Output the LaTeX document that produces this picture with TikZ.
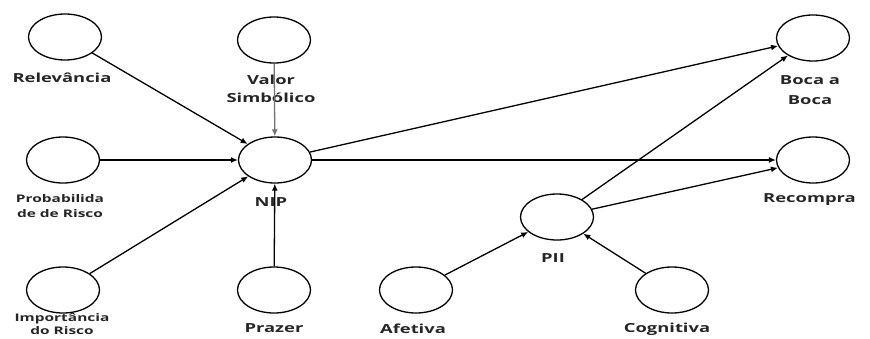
\documentclass[tikz,border=0pt]{standalone}
\usepackage{fontspec}
\setmainfont{Open Sans}[FakeStretch=1.47]
\usetikzlibrary{arrows.meta,shapes.geometric}
\begin{document}
\begin{tikzpicture}[x=1pt,y=-1pt,
  var/.style={draw, ellipse, line width=1.3pt, minimum width=73pt, minimum height=46pt, inner sep=0pt},
  lbl/.style={font=\bfseries\fontsize{12.5}{18}\selectfont, align=center, text=black!85, inner sep=0pt},
  slbl/.style={font=\bfseries\fontsize{10.5}{15}\selectfont, align=center, text=black!85, inner sep=0pt},
  arr/.style={-{Latex[length=7pt,width=6pt]}, line width=1.3pt},
  grayarr/.style={arr, draw=black!55}]
\useasboundingbox (0,0) rectangle (870,338);
% variables
\node[var] (rel)  at (65,37)  {};
\node[var] (val)  at (274,40) {};
\node[var] (nip)  at (275,160) {};
\node[var] (prob) at (63,160) {};
\node[var] (imp)  at (63,290) {};
\node[var] (pra)  at (274,290) {};
\node[var] (boca) at (813,38) {};
\node[var] (rec)  at (813,160) {};
\node[var] (pii)  at (557,217) {};
\node[var] (afe)  at (416,290) {};
\node[var] (cog)  at (672,290) {};
% labels
\node[lbl]  (lrel)  at (62,78)  {Relevância};
\node[lbl]  (lval)  at (271,89) {Valor\\Simbólico};
\node[lbl]  (lnip)  at (271,202) {NIP};
\node[slbl] (lprob) at (60,206) {Probabilida\\de de Risco};
\node[slbl, font=\bfseries\fontsize{10.5}{13.5}\selectfont] (limp) at (62,324) {Importância\\do Risco};
\node[lbl]  (lpra)  at (274,328) {Prazer};
\node[lbl, font=\bfseries\fontsize{12.5}{20}\selectfont] (lboca) at (810,90) {Boca a\\Boca};
\node[lbl, anchor=west] (lrec) at (763,200) {Recompra};
\node[lbl]  (lpii)  at (553,258) {PII};
\node[lbl]  (lafe)  at (413,329) {Afetiva};
\node[lbl]  (lcog)  at (667,329) {Cognitiva};
% connectors
\draw[arr] (rel) -- (nip);
\draw[grayarr] (val) -- (nip);
\draw[arr] (prob) -- (nip);
\draw[arr] (imp) -- (nip);
\draw[arr] (pra) -- (nip);
\draw[arr] (nip) -- (boca);
\draw[arr] (nip) -- (rec);
\draw[arr] (pii) -- (boca);
\draw[arr] (pii) -- (rec);
\draw[arr] (afe) -- (pii);
\draw[arr] (cog) -- (pii);
\end{tikzpicture}
\end{document}
